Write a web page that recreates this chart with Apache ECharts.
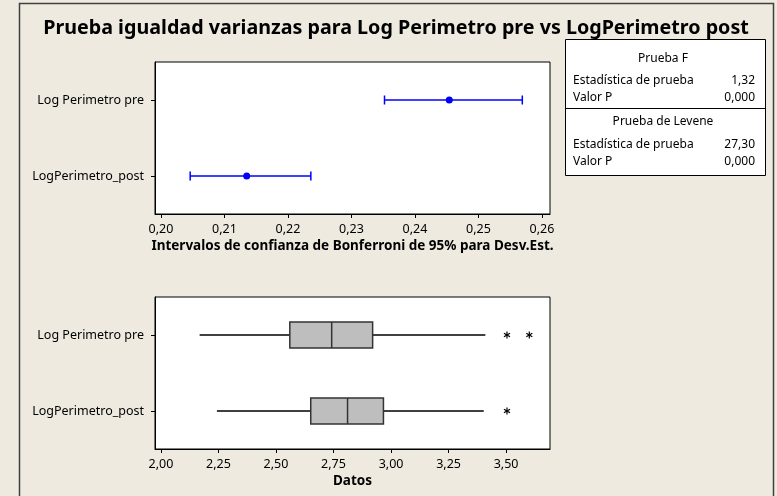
<!DOCTYPE html>
<html>
<head>
<meta charset="utf-8">
<script src="https://cdn.jsdelivr.net/npm/echarts@6/dist/echarts.min.js"></script>
<style>
  html, body { margin: 0; padding: 0; background: #EEEAE0; }
  #chart { width: 777px; height: 496px; }
</style>
</head>
<body>
<div id="chart"></div>
<script>
// categorias (de arriba a abajo)
var categories = ['Log Perimetro pre', 'LogPerimetro_post'];

// intervalos de Bonferroni 95% para Desv.Est.
var ciLower = [0.2352, 0.2046];
var ciCenter = [0.2454, 0.2135];
var ciUpper = [0.2569, 0.2236];
var ciTicks = [0.20, 0.21, 0.22, 0.23, 0.24, 0.25, 0.26];

// diagramas de caja
var whiskerLow = [2.168, 2.243];
var q1 = [2.560, 2.651];
var median = [2.742, 2.811];
var q3 = [2.920, 2.967];
var whiskerHigh = [3.410, 3.403];
var outlierCat = [0, 0, 1];
var outlierVal = [3.504, 3.601, 3.504];
var dataTicks = [2.00, 2.25, 2.50, 2.75, 3.00, 3.25, 3.50];

// tabla de pruebas
var testTable = [
  { head: 'Prueba F', rows: [['Estadística de prueba', '1,32'], ['Valor P', '0,000']] },
  { head: 'Prueba de Levene', rows: [['Estadística de prueba', '27,30'], ['Valor P', '0,000']] }
];

var FONT = "'Noto Sans', 'DejaVu Sans', sans-serif";
var fmt = function (d) { return function (v) { return v.toFixed(d).replace('.', ','); }; };

var chart = echarts.init(document.getElementById('chart'));

var ciData = categories.map(function (c, i) { return [i, ciLower[i], ciCenter[i], ciUpper[i]]; });
var boxData = categories.map(function (c, i) { return [i, whiskerLow[i], q1[i], median[i], q3[i], whiskerHigh[i]]; });
var outData = outlierVal.map(function (v, i) { return [outlierCat[i], v]; });

function catAxis(gi) {
  return {
    type: 'category', gridIndex: gi, data: categories, inverse: true,
    axisLine: { show: true, lineStyle: { color: '#000', width: 1 } },
    axisTick: { show: true, alignWithLabel: true, length: 4, lineStyle: { color: '#000' } },
    axisLabel: { color: '#000', fontSize: 12.5, fontFamily: FONT, margin: 11 },
    splitLine: { show: false }
  };
}

function valAxis(gi, min, max, ticks, name) {
  return {
    type: 'value', gridIndex: gi, min: min, max: max,
    name: name, nameLocation: 'middle', nameGap: 25,
    nameTextStyle: { color: '#000', fontSize: 13.5, fontWeight: 'bold', fontFamily: FONT },
    axisLine: { show: true, lineStyle: { color: '#000', width: 1 } },
    axisTick: { show: true, length: 4, customValues: ticks, lineStyle: { color: '#000' } },
    axisLabel: { color: '#000', fontSize: 12.5, fontFamily: FONT, margin: 9, customValues: ticks, formatter: fmt(2) },
    splitLine: { show: false }
  };
}

// cuadro de pruebas como graphic
var tableEls = [
  { type: 'rect', shape: { x: 565.5, y: 39.5, width: 200, height: 136 }, style: { fill: '#fff', stroke: '#000', lineWidth: 1 } },
  { type: 'line', shape: { x1: 565.5, y1: 108.5, x2: 765.5, y2: 108.5 }, style: { stroke: '#000', lineWidth: 1 } }
];
var heads = [59, 122];
var rowsY = [[81, 98], [145, 162]];
testTable.forEach(function (t, k) {
  tableEls.push({ type: 'text', x: 663, y: heads[k], style: { text: t.head, align: 'center', verticalAlign: 'middle', font: '12px ' + FONT, fill: '#000' } });
  t.rows.forEach(function (r, j) {
    tableEls.push({ type: 'text', x: 573, y: rowsY[k][j], style: { text: r[0], verticalAlign: 'middle', font: '12px ' + FONT, fill: '#000' } });
    tableEls.push({ type: 'text', x: 755, y: rowsY[k][j], style: { text: r[1], align: 'right', verticalAlign: 'middle', font: '12px ' + FONT, fill: '#000' } });
  });
});

var option = {
  backgroundColor: '#EEEAE0',
  animation: false,
  title: {
    text: 'Prueba igualdad varianzas para Log Perimetro pre vs LogPerimetro post',
    left: 391, top: 13, textAlign: 'center',
    textStyle: { fontSize: 19.7, fontWeight: 'bold', color: '#000', fontFamily: FONT }
  },
  graphic: [
    { type: 'rect', shape: { x: 19.5, y: 3.5, width: 754, height: 500 }, style: { fill: 'none', stroke: '#404040', lineWidth: 1.5 }, z: 100 }
  ].concat(tableEls),
  grid: [
    { left: 155, top: 62, width: 395, height: 152, show: true, backgroundColor: '#fff', borderColor: '#000', borderWidth: 1 },
    { left: 155, top: 297, width: 395, height: 152, show: true, backgroundColor: '#fff', borderColor: '#000', borderWidth: 1 }
  ],
  xAxis: [
    valAxis(0, 0.19906, 0.26126, ciTicks, 'Intervalos de confianza de Bonferroni de 95% para Desv.Est.'),
    valAxis(1, 1.974, 3.691, dataTicks, 'Datos')
  ],
  yAxis: [catAxis(0), catAxis(1)],
  series: [
    {
      type: 'custom', xAxisIndex: 0, yAxisIndex: 0, data: ciData,
      encode: { x: [1, 2, 3], y: 0 },
      renderItem: function (params, api) {
        var c = api.value(0);
        var lo = api.coord([api.value(1), c]);
        var mid = api.coord([api.value(2), c]);
        var hi = api.coord([api.value(3), c]);
        var st = { stroke: '#0000FF', lineWidth: 1.5 };
        return {
          type: 'group', children: [
            { type: 'line', shape: { x1: lo[0], y1: lo[1], x2: hi[0], y2: hi[1] }, style: st },
            { type: 'line', shape: { x1: lo[0], y1: lo[1] - 4.5, x2: lo[0], y2: lo[1] + 4.5 }, style: st },
            { type: 'line', shape: { x1: hi[0], y1: hi[1] - 4.5, x2: hi[0], y2: hi[1] + 4.5 }, style: st },
            { type: 'circle', shape: { cx: mid[0], cy: mid[1], r: 3.5 }, style: { fill: '#0000FF' } }
          ]
        };
      }
    },
    {
      type: 'custom', xAxisIndex: 1, yAxisIndex: 1, data: boxData,
      encode: { x: [1, 2, 3, 4, 5], y: 0 },
      renderItem: function (params, api) {
        var c = api.value(0);
        var pLow = api.coord([api.value(1), c]);
        var pQ1 = api.coord([api.value(2), c]);
        var pMed = api.coord([api.value(3), c]);
        var pQ3 = api.coord([api.value(4), c]);
        var pHigh = api.coord([api.value(5), c]);
        var h = 13;
        var line = { stroke: '#000', lineWidth: 1.5 };
        return {
          type: 'group', children: [
            { type: 'line', shape: { x1: pLow[0], y1: pLow[1], x2: pQ1[0], y2: pQ1[1] }, style: line },
            { type: 'line', shape: { x1: pQ3[0], y1: pQ3[1], x2: pHigh[0], y2: pHigh[1] }, style: line },
            { type: 'rect', shape: { x: pQ1[0], y: pQ1[1] - h, width: pQ3[0] - pQ1[0], height: 2 * h }, style: { fill: '#BEBEBE', stroke: '#333', lineWidth: 1.5 } },
            { type: 'line', shape: { x1: pMed[0], y1: pMed[1] - h, x2: pMed[0], y2: pMed[1] + h }, style: { stroke: '#333', lineWidth: 1.5 } }
          ]
        };
      }
    },
    {
      type: 'custom', xAxisIndex: 1, yAxisIndex: 1, data: outData,
      encode: { x: 1, y: 0 },
      renderItem: function (params, api) {
        var p = api.coord([api.value(1), api.value(0)]);
        var r = 3.5, st = { stroke: '#000', lineWidth: 1.2 };
        var kids = [];
        [90, 30, 150].forEach(function (a) {
          var dx = r * Math.cos(a * Math.PI / 180), dy = r * Math.sin(a * Math.PI / 180);
          kids.push({ type: 'line', shape: { x1: p[0] - dx, y1: p[1] - dy, x2: p[0] + dx, y2: p[1] + dy }, style: st });
        });
        return { type: 'group', children: kids };
      }
    }
  ]
};

chart.setOption(option);
</script>
</body>
</html>
